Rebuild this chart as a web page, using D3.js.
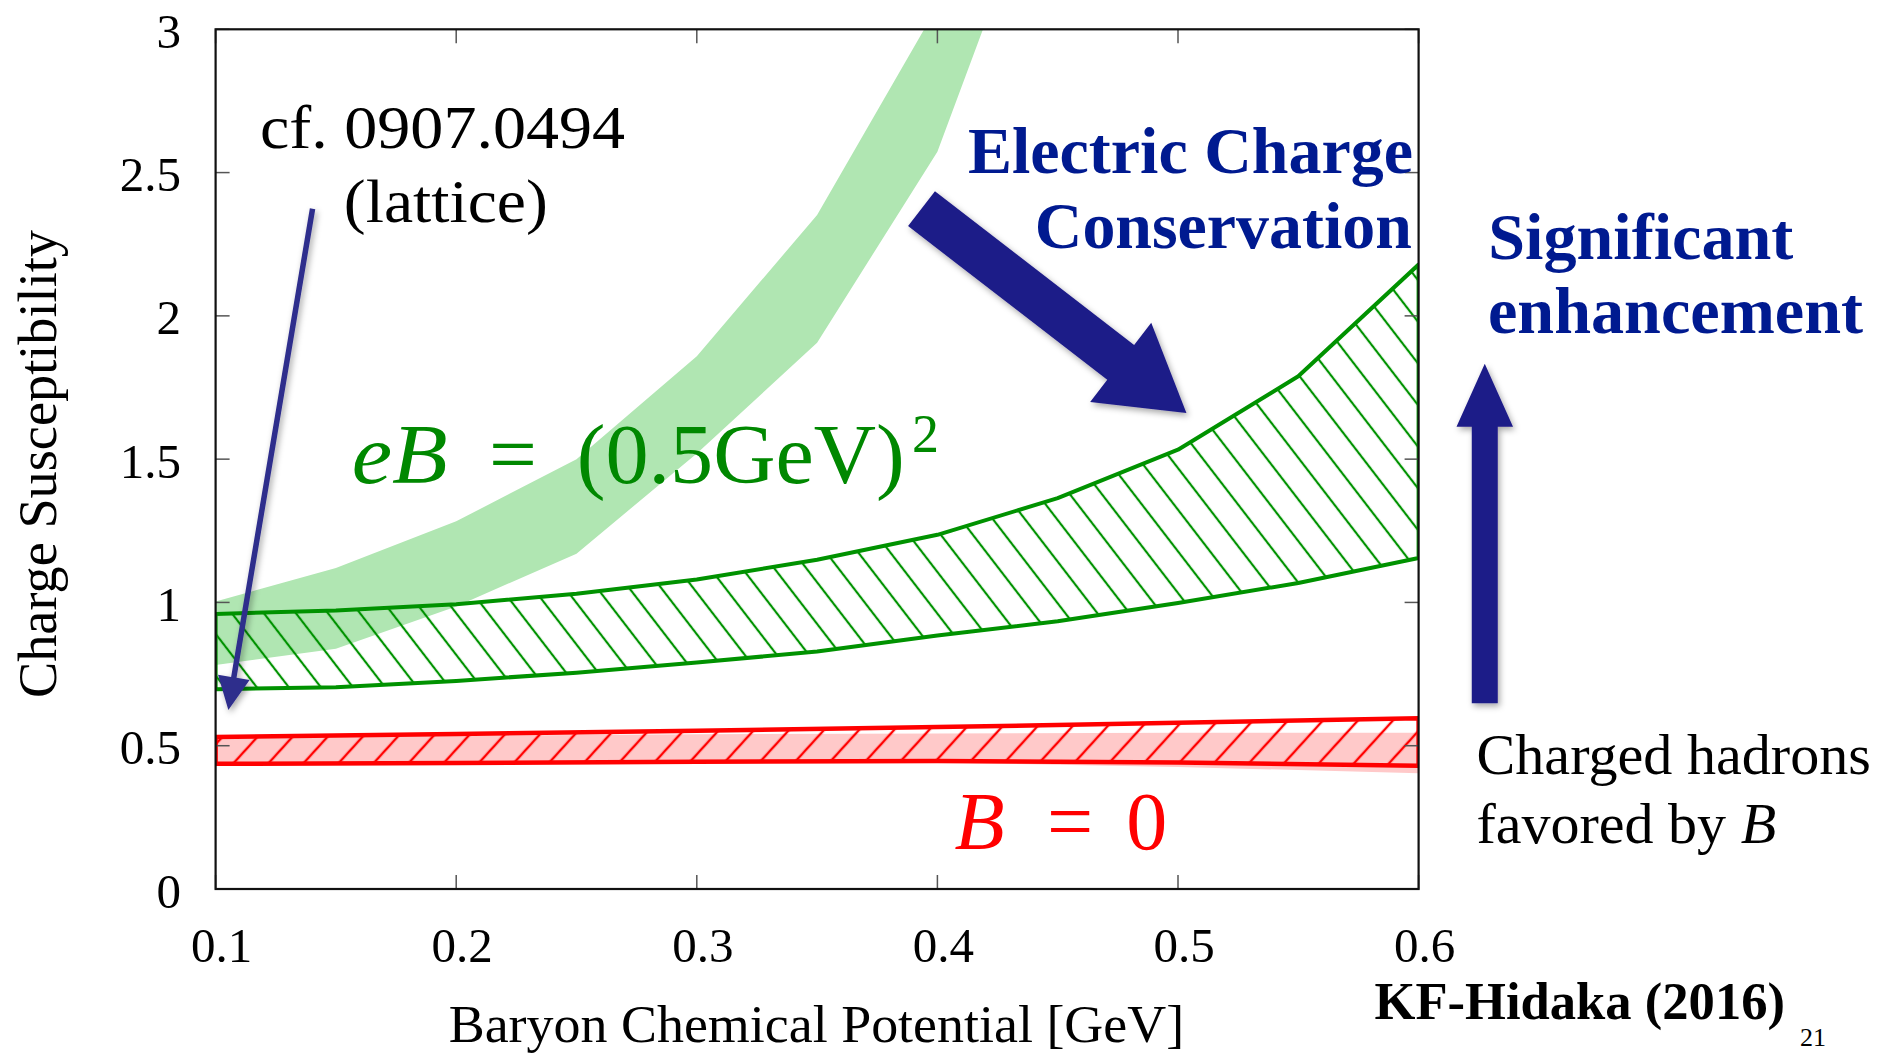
<!DOCTYPE html>
<html><head><meta charset="utf-8">
<script src="https://cdn.jsdelivr.net/npm/d3@7"></script>
<style>body{margin:0;background:#fff}svg{display:block}</style>
</head><body>
<svg id="c" width="1879" height="1055"></svg>
<script>
// ---- data ----
const muGrid   = [0.1, 0.15, 0.2, 0.25, 0.3, 0.35, 0.4, 0.45, 0.5, 0.55, 0.6];
const eBUpper  = [0.960, 0.972, 0.994, 1.030, 1.080, 1.149, 1.236, 1.364, 1.533, 1.789, 2.179];
const eBLower  = [0.697, 0.704, 0.726, 0.755, 0.790, 0.829, 0.885, 0.934, 0.998, 1.068, 1.155];
const latticeMu    = [0.1, 0.15, 0.2, 0.25, 0.3, 0.35, 0.4, 0.45];
const latticeUpper = [1.003, 1.120, 1.283, 1.500, 1.859, 2.352, 3.08, 4.5];
const latticeLower = [0.782, 0.838, 0.986, 1.170, 1.520, 1.906, 2.573, 3.7];
const b0Mu        = [0.1, 0.2, 0.3, 0.4, 0.5, 0.6];
const b0Upper     = [0.530, 0.541, 0.552, 0.565, 0.580, 0.596];
const b0Lower     = [0.437, 0.440, 0.444, 0.447, 0.441, 0.430];
const b0BandUpper = [0.527, 0.535, 0.540, 0.543, 0.545, 0.545];
const b0BandLower = [0.438, 0.441, 0.444, 0.441, 0.426, 0.404];
const xTicks = [0.1, 0.2, 0.3, 0.4, 0.5, 0.6];
const yTicks = [0, 0.5, 1, 1.5, 2, 2.5, 3];
const xLabels = ["0.1", "0.2", "0.3", "0.4", "0.5", "0.6"];
const yLabels = ["0", "0.5", "1", "1.5", "2", "2.5", "3"];
// annotation arrows in data coordinates [mu, chi]
const thinArrow = {from: [0.1403, 2.374], to: [0.1053, 0.625]};
const bigArrow  = {from: [0.3934, 2.374], to: [0.5035, 1.661]};
const upArrow   = {from: [0.6275, 0.648], to: [0.6275, 1.8325]};

// ---- layout ----
const svg = d3.select("#c");
svg.append("rect").attr("width",1879).attr("height",1055).attr("fill","#fff");
const L = 215.6, R = 1418.6, T = 29.3, B = 889;
const x = d3.scaleLinear().domain([0.1, 0.6]).range([L, R]);
const y = d3.scaleLinear().domain([0, 3]).range([B, T]);
const SERIF = "'Liberation Serif','Times New Roman',serif";
const GREEN = "#009200", LIGHTGREEN = "#b0e6b2", RED = "#ff0000", PINK = "#ffc9c9";
const NAVY_TXT = "#001a90", ARROW = "#1f1b88";

const defs = svg.append("defs");
defs.append("clipPath").attr("id","plotclip").append("rect")
  .attr("x",L).attr("y",T).attr("width",R-L).attr("height",B-T);
function hatch(id, angle, spacing, color, w){
  const p = defs.append("pattern").attr("id",id).attr("patternUnits","userSpaceOnUse")
    .attr("width",20).attr("height",spacing).attr("patternTransform",`rotate(${angle})`);
  p.append("line").attr("x1",-5).attr("x2",25).attr("y1",spacing/2).attr("y2",spacing/2)
    .attr("stroke",color).attr("stroke-width",w);
}
hatch("ghatch", 52.4, 25.4, GREEN, 2.2);
hatch("rhatch", -47.7, 25.9, RED, 2.4);
const sh = defs.append("filter").attr("id","shadow").attr("x","-20%").attr("y","-20%").attr("width","140%").attr("height","140%");
sh.append("feDropShadow").attr("dx",2).attr("dy",3).attr("stdDeviation",3).attr("flood-color","#000").attr("flood-opacity",0.35);

const area = d3.area().x(d=>x(d.mu)).y0(d=>y(d.lo)).y1(d=>y(d.hi));
const zipBand = (mus, lo, hi) => mus.map((m,i)=>({mu:m, lo:lo[i], hi:hi[i]}));

const plot = svg.append("g").attr("clip-path","url(#plotclip)");
plot.append("path").attr("d", area(zipBand(latticeMu, latticeLower, latticeUpper))).attr("fill", LIGHTGREEN);
plot.append("path").attr("d", area(zipBand(b0Mu, b0BandLower, b0BandUpper))).attr("fill", PINK);
const eBData = zipBand(muGrid, eBLower, eBUpper);
plot.append("path").attr("d", area(eBData)).attr("fill","url(#ghatch)");
plot.append("path").attr("d", area(eBData)).attr("fill","none").attr("stroke",GREEN)
  .attr("stroke-width",4).attr("stroke-linejoin","round");
const b0Data = zipBand(b0Mu, b0Lower, b0Upper);
plot.append("path").attr("d", area(b0Data)).attr("fill","url(#rhatch)");
plot.append("path").attr("d", area(b0Data)).attr("fill","none").attr("stroke",RED)
  .attr("stroke-width",4.5).attr("stroke-linejoin","round");

// ---- in-plot labels ----
const eBy = 483.3, eBfs = 85;
svg.append("text").attr("x",351.7).attr("y",eBy).attr("font-family",SERIF).attr("font-size",eBfs)
  .attr("font-style","italic").attr("fill","#008800").attr("textLength",96).attr("lengthAdjust","spacingAndGlyphs").text("eB");
svg.append("text").attr("x",513).attr("y",eBy).attr("text-anchor","middle").attr("font-family",SERIF).attr("font-size",eBfs)
  .attr("fill","#008800").text("=");
svg.append("text").attr("x",576.7).attr("y",eBy).attr("font-family",SERIF).attr("font-size",eBfs)
  .attr("fill","#008800").attr("textLength",328).attr("lengthAdjust","spacingAndGlyphs").text("(0.5GeV)");
svg.append("text").attr("x",912).attr("y",451.7).attr("font-family",SERIF).attr("font-size",54)
  .attr("fill","#008800").text("2");

const b0y = 848.7, b0fs = 82;
svg.append("text").attr("x",954.5).attr("y",b0y).attr("font-family",SERIF).attr("font-size",b0fs)
  .attr("font-style","italic").attr("fill",RED).text("B");
svg.append("text").attr("x",1070).attr("y",b0y).attr("text-anchor","middle").attr("font-family",SERIF).attr("font-size",b0fs)
  .attr("fill",RED).text("=");
svg.append("text").attr("x",1126.3).attr("y",b0y).attr("font-family",SERIF).attr("font-size",b0fs)
  .attr("fill",RED).text("0");

// ---- frame & ticks ----
const ax = svg.append("g");
const tickLen = 14, tickCol = "#555";
xTicks.forEach(t=>{
  ax.append("line").attr("x1",x(t)).attr("x2",x(t)).attr("y1",B).attr("y2",B-tickLen).attr("stroke",tickCol).attr("stroke-width",1.5);
  ax.append("line").attr("x1",x(t)).attr("x2",x(t)).attr("y1",T).attr("y2",T+tickLen).attr("stroke",tickCol).attr("stroke-width",1.5);
});
yTicks.forEach(t=>{
  ax.append("line").attr("x1",L).attr("x2",L+tickLen).attr("y1",y(t)).attr("y2",y(t)).attr("stroke",tickCol).attr("stroke-width",1.5);
  ax.append("line").attr("x1",R).attr("x2",R-tickLen).attr("y1",y(t)).attr("y2",y(t)).attr("stroke",tickCol).attr("stroke-width",1.5);
});
ax.append("rect").attr("x",L).attr("y",T).attr("width",R-L).attr("height",B-T)
  .attr("fill","none").attr("stroke","#111").attr("stroke-width",2.2);
xTicks.forEach((t,i)=>{
  ax.append("text").attr("x",x(t)+6).attr("y",962).attr("text-anchor","middle")
    .attr("font-family",SERIF).attr("font-size",49).attr("fill","#000").text(xLabels[i]);
});
yTicks.forEach((t,i)=>{
  ax.append("text").attr("x",181).attr("y",y(t)+18.5).attr("text-anchor","end")
    .attr("font-family",SERIF).attr("font-size",49).attr("fill","#000").text(yLabels[i]);
});
ax.append("text").attr("x",448.7).attr("y",1041.6).attr("font-family",SERIF).attr("font-size",52)
  .attr("textLength",735.5).attr("lengthAdjust","spacingAndGlyphs").attr("fill","#000").text("Baryon Chemical Potential [GeV]");
ax.append("text").attr("transform","translate(55.8,698) rotate(-90)").attr("font-family",SERIF).attr("font-size",54)
  .attr("textLength",468).attr("lengthAdjust","spacingAndGlyphs").attr("fill","#000").text("Charge Susceptibility");

// ---- arrows ----
function arrowPts(p0, p1, sw, hw, hl){
  const x0=x(p0[0]), y0=y(p0[1]), x1=x(p1[0]), y1=y(p1[1]);
  const dx=x1-x0, dy=y1-y0, len=Math.hypot(dx,dy), ux=dx/len, uy=dy/len, nx=-uy, ny=ux;
  const ncx=x1-ux*hl, ncy=y1-uy*hl;
  return [[x0+nx*sw/2,y0+ny*sw/2],[ncx+nx*sw/2,ncy+ny*sw/2],[ncx+nx*hw/2,ncy+ny*hw/2],[x1,y1],
          [ncx-nx*hw/2,ncy-ny*hw/2],[ncx-nx*sw/2,ncy-ny*sw/2],[x0-nx*sw/2,y0-ny*sw/2]];
}
svg.append("polygon").attr("points", arrowPts(bigArrow.from, bigArrow.to, 44, 100, 83).map(p=>p.join(",")).join(" "))
  .attr("fill",ARROW).attr("filter","url(#shadow)");
svg.append("polygon").attr("points", arrowPts(upArrow.from, upArrow.to, 26, 56.5, 63).map(p=>p.join(",")).join(" "))
  .attr("fill",ARROW).attr("filter","url(#shadow)");
svg.append("polygon").attr("points", arrowPts(thinArrow.from, thinArrow.to, 5.5, 32, 33).map(p=>p.join(",")).join(" "))
  .attr("fill","#2e2d8c").attr("filter","url(#shadow)");

// ---- annotation texts ----
function txt(s, xx, yy, fs, opts={}){
  const t = svg.append("text").attr("x",xx).attr("y",yy).attr("font-family",SERIF).attr("font-size",fs)
    .attr("fill",opts.fill||"#000").attr("font-weight",opts.bold?"bold":"normal");
  if(opts.len) t.attr("textLength",opts.len).attr("lengthAdjust","spacingAndGlyphs");
  t.text(s); return t;
}
txt("cf. 0907.0494", 260, 147.7, 62, {len:365});
txt("(lattice)", 343.8, 221.7, 62, {len:204});
txt("Electric Charge", 968, 173.3, 66, {bold:true, fill:NAVY_TXT, len:445});
txt("Conservation", 1034.8, 248.3, 66, {bold:true, fill:NAVY_TXT, len:377});
txt("Significant", 1488.3, 259.3, 66, {bold:true, fill:NAVY_TXT, len:305});
txt("enhancement", 1488, 333.3, 66, {bold:true, fill:NAVY_TXT, len:375});
txt("Charged hadrons", 1476.5, 774.3, 58, {len:394.5});
const fav = svg.append("text").attr("x",1476.5).attr("y",843.4).attr("font-family",SERIF).attr("font-size",58).attr("fill","#000");
fav.append("tspan").text("favored by ");
fav.append("tspan").attr("font-style","italic").text("B");
txt("KF-Hidaka (2016)", 1374.5, 1018.6, 53, {bold:true, len:410.5});
txt("21", 1800, 1046, 26);
</script>
</body></html>
